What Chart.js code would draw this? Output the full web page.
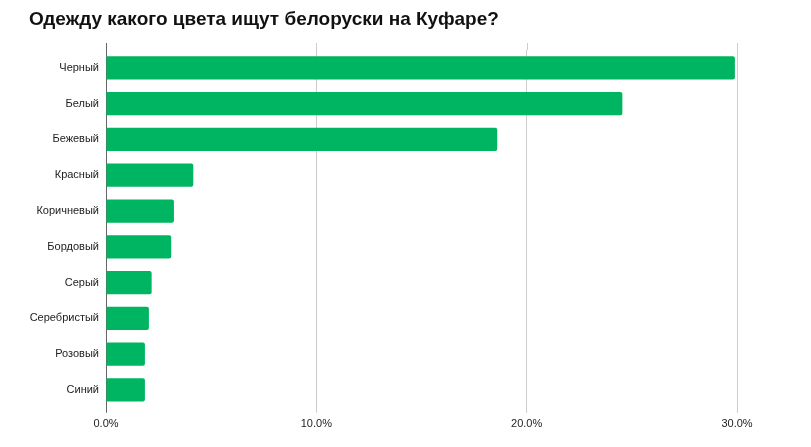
<!DOCTYPE html>
<html>
<head>
<meta charset="utf-8">
<script src="https://cdn.jsdelivr.net/npm/chart.js@4/dist/chart.umd.min.js"></script>
<style>
    html, body { margin: 0; padding: 0; background: #fff; }
    #wrap { width: 811px; height: 447px; position: relative; }
</style>
</head>
<body>
<div id="wrap"><canvas id="colorChart"></canvas></div>
<script>
// ==========================================
// Chart data
// ==========================================

const CHART_TITLE = 'Одежду какого цвета ищут белоруски на Куфаре?';

const COLOR_LABELS = [
    'Черный', 'Белый', 'Бежевый', 'Красный', 'Коричневый',
    'Бордовый', 'Серый', 'Серебристый', 'Розовый', 'Синий'
];

// share of searches, %
const SEARCH_SHARE = [29.9, 24.55, 18.6, 4.15, 3.23, 3.1, 2.17, 2.04, 1.85, 1.85];

const X_TICKS = [0, 10, 20, 30];

const BAR_COLOR = '#00b562';
const GRID_COLOR = '#cccccc';
const BASELINE_COLOR = '#666666';
const FONT_FAMILY = "'Liberation Sans', Arial, sans-serif";

function gridColor(ctx) {
    return ctx.tick && ctx.tick.value === 0 ? BASELINE_COLOR : GRID_COLOR;
}

// Title drawn by hand so it can sit left of the axis labels
const titlePlugin = {
    id: 'sheetTitle',
    afterDraw: function(chart) {
        const ctx = chart.ctx;
        ctx.save();
        ctx.font = `bold 19px ${FONT_FAMILY}`;
        ctx.fillStyle = '#111';
        ctx.textAlign = 'left';
        ctx.textBaseline = 'middle';
        ctx.fillText(CHART_TITLE, 29, 19.5);
        ctx.restore();
    }
};

// Gridlines poke a few px above the plot area, like in Sheets
const gridExtensionPlugin = {
    id: 'gridExtension',
    afterDraw: function(chart) {
        const ctx = chart.ctx;
        const area = chart.chartArea;
        const xScale = chart.scales.x;
        ctx.save();
        ctx.lineWidth = 1;
        xScale.ticks.forEach(function(tick) {
            const x = Math.round(xScale.getPixelForValue(tick.value)) + 0.5;
            ctx.strokeStyle = tick.value === 0 ? BASELINE_COLOR : GRID_COLOR;
            ctx.beginPath();
            ctx.moveTo(x, area.top - 7);
            ctx.lineTo(x, area.top);
            ctx.stroke();
        });
        ctx.restore();
    }
};

new Chart(document.getElementById('colorChart'), {
    type: 'bar',
    data: {
        labels: COLOR_LABELS,
        datasets: [{
            data: SEARCH_SHARE,
            backgroundColor: BAR_COLOR,
            borderRadius: 2,
            borderSkipped: 'start',
            categoryPercentage: 1,
            barPercentage: 0.65
        }]
    },
    options: {
        indexAxis: 'y',
        responsive: true,
        maintainAspectRatio: false,
        animation: false,
        layout: {
            padding: { left: 20, right: 74, top: 50, bottom: 11 }
        },
        plugins: {
            legend: { display: false },
            tooltip: { enabled: false },
            title: { display: false }
        },
        scales: {
            x: {
                min: 0,
                max: 30,
                afterBuildTicks: function(scale) {
                    scale.ticks = X_TICKS.map(v => ({ value: v }));
                },
                grid: {
                    color: gridColor,
                    tickColor: gridColor,
                    tickLength: 5,
                    lineWidth: 1
                },
                border: { display: false },
                ticks: {
                    padding: 5,
                    color: '#222',
                    font: { family: FONT_FAMILY, size: 11 },
                    maxRotation: 0,
                    callback: function(value) {
                        return Number(value).toFixed(1) + '%';
                    }
                }
            },
            y: {
                grid: { display: false, drawTicks: false },
                border: { display: false },
                afterFit: function(scale) {
                    scale.width = 86;
                },
                ticks: {
                    padding: 7,
                    color: '#222',
                    font: { family: FONT_FAMILY, size: 11 }
                }
            }
        }
    },
    plugins: [gridExtensionPlugin, titlePlugin]
});
</script>
</body>
</html>
